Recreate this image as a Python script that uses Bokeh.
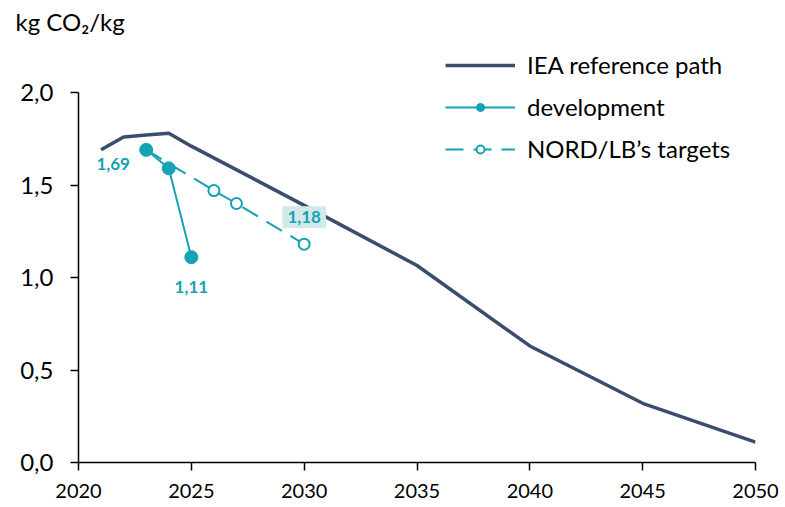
from bokeh.plotting import figure
from bokeh.models import (ColumnDataSource, Legend, LegendItem, FixedTicker, LabelSet, Label)
from bokeh.core.properties import value
from bokeh.embed import file_html
from bokeh.resources import INLINE

# ---- data ----
iea_years = [2021, 2022, 2023, 2024, 2025, 2030, 2035, 2040, 2045, 2050]
iea_values = [1.69, 1.76, 1.77, 1.78, 1.71, 1.39, 1.065, 0.63, 0.32, 0.11]

dev_years = [2023, 2024, 2025]
dev_values = [1.69, 1.59, 1.11]

target_years = [2023, 2026, 2027, 2030]
target_values = [1.69, 1.47, 1.40, 1.18]

y_ticks = [0.0, 0.5, 1.0, 1.5, 2.0]
x_ticks = [2020, 2025, 2030, 2035, 2040, 2045, 2050]

NAVY = "#3A4D6F"
TEAL = "#14A3B4"
FONT = "Lato"

def fmt(v):
    return f"{v:.2f}".replace(".", ",")

FRAME_TOP = 40
Y_END = 2.0 * (462 - FRAME_TOP) / (462 - 92)

p = figure(width=785, height=507, x_range=(2020, 2050), y_range=(0, Y_END),
           output_backend="svg", toolbar_location=None,
           min_border_left=78, min_border_right=30, min_border_top=FRAME_TOP,
           min_border_bottom=45, title="kg CO\u2082/kg")
p.outline_line_color = None
p.xgrid.visible = False
p.ygrid.visible = False
p.background_fill_color = "white"

p.title.text_font = FONT
p.title.text_font_size = "24px"
p.title.text_font_style = "normal"
p.title.text_color = "black"
p.title.align = "left"
p.title.offset = -63
p.title.standoff = 9

# axes
for ax in (p.xaxis[0], p.yaxis[0]):
    ax.axis_line_color = "black"
    ax.axis_line_width = 1.5
    ax.major_tick_line_color = "black"
    ax.major_tick_line_width = 1.5
    ax.major_tick_in = 0
    ax.major_tick_out = 8
    ax.minor_tick_line_color = None
    ax.major_label_text_font = FONT
    ax.major_label_text_color = "black"

p.xaxis.ticker = FixedTicker(ticks=x_ticks)
p.xaxis.major_label_text_font_size = "20px"
p.xaxis.major_label_standoff = 13
p.yaxis.ticker = FixedTicker(ticks=y_ticks)
p.yaxis.bounds = (0, 2.0)
p.yaxis.major_label_text_font_size = "24px"
p.yaxis.major_label_overrides = {t: f"{t:.1f}".replace(".", ",") for t in y_ticks}
p.yaxis.major_label_standoff = 17

# series
r_iea = p.line(iea_years, iea_values, line_color=NAVY, line_width=3.5, line_join="round")

r_dev_line = p.line(dev_years, dev_values, line_color=TEAL, line_width=2)
r_dev_pts = p.scatter(dev_years, dev_values, size=13, fill_color=TEAL, line_color=TEAL)

r_tgt_line = p.line(target_years, target_values, line_color=TEAL, line_width=2, line_dash="18 10")
r_tgt_pts = p.scatter(target_years[1:], target_values[1:], size=11, fill_color="white",
                      line_color=TEAL, line_width=2)

# data labels
lab_style = dict(text_align="center", text_baseline="middle", text_font=value(FONT),
                 text_font_style="bold", text_font_size="17px", text_color=TEAL)
lab_left = ColumnDataSource(dict(x=[dev_years[0]], y=[dev_values[0]], t=[fmt(dev_values[0])]))
p.add_layout(LabelSet(x="x", y="y", text="t", source=lab_left, x_offset=-33, y_offset=-14,
                      **lab_style))
lab_dev = ColumnDataSource(dict(x=[dev_years[-1]], y=[dev_values[-1]], t=[fmt(dev_values[-1])]))
p.add_layout(LabelSet(x="x", y="y", text="t", source=lab_dev, x_offset=0, y_offset=-30,
                      **lab_style))
p.add_layout(Label(x=target_years[-1], y=target_values[-1], text=fmt(target_values[-1]),
                   x_offset=0, y_offset=27, text_align="center", text_baseline="middle",
                   text_font=FONT, text_font_style="bold", text_font_size="17px",
                   text_color=TEAL, background_fill_color="#D3E9E7", border_line_color=None,
                   padding=5))

# legend
legend = Legend(items=[
    LegendItem(label="IEA reference path", renderers=[r_iea]),
    LegendItem(label="development", renderers=[r_dev_line, r_dev_pts]),
    LegendItem(label="NORD/LB\u2019s targets", renderers=[r_tgt_line, r_tgt_pts]),
], location=(367, 299), glyph_width=70, glyph_height=20, label_height=20,
   spacing=13, padding=0, margin=0, label_standoff=12,
   label_text_font=FONT, label_text_font_size="24px", label_text_color="black",
   border_line_color=None, background_fill_alpha=0)
p.add_layout(legend)

open("out.html", "w").write(file_html(p, INLINE))
